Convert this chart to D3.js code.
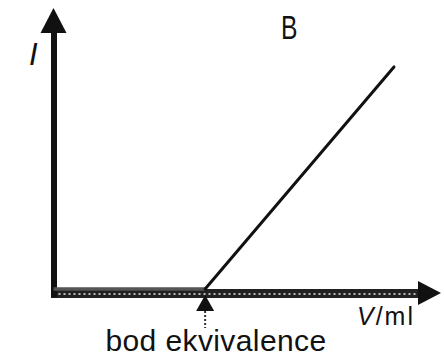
<!DOCTYPE html>
<html><head><meta charset="utf-8">
<script src="https://cdn.jsdelivr.net/npm/d3@7"></script>
<style>
html,body{margin:0;padding:0;background:#fff;}
svg{display:block;}
text{font-family:"Liberation Sans",Arial,Helvetica,sans-serif;fill:#111;}
</style></head>
<body>
<script>
// Data (V in ml, I in arbitrary units) — amperometric titration curve type B
const volumes = [0, 3.95, 8.92];
const currents = [0, 0, 8.54];
const equivalenceVolume = 3.95;
const axisLabelX = "V/ml";
const axisLabelY = "I";
const panelLabel = "B";
const equivalenceLabel = "bod ekvivalence";

const W = 444, H = 358;
const svg = d3.select("body").append("svg").attr("width", W).attr("height", H);

const x = d3.scaleLinear().domain([0, 10]).range([55, 435]);
const y = d3.scaleLinear().domain([0, 10]).range([289, 29]);

const axisY0 = 293; // x-axis position (pixel)
const axisX0 = 53.5;

// X axis (no ticks) drawn with d3.axisBottom
const gx = svg.append("g").attr("transform", `translate(0,${axisY0})`)
  .call(d3.axisBottom(d3.scaleLinear().domain([0,1]).range([axisX0 - 3, 420])).tickValues([]).tickSizeOuter(0));
gx.select(".domain").attr("stroke", "#222").attr("stroke-width", 9);
gx.append("line").attr("x1", axisX0).attr("x2", 418).attr("y1", 1).attr("y2", 1)
  .attr("stroke", "#bbb").attr("stroke-width", 2).attr("stroke-dasharray", "2,3");
// x arrow head
svg.append("path").attr("d", `M441,${axisY0} L418,${axisY0-12} L418,${axisY0+12} Z`).attr("fill", "#111");

// Y axis
const gy = svg.append("g").attr("transform", `translate(${axisX0},0)`)
  .call(d3.axisLeft(d3.scaleLinear().domain([0,1]).range([297, 30])).tickValues([]).tickSizeOuter(0));
gy.select(".domain").attr("stroke", "#111").attr("stroke-width", 6);
svg.append("path").attr("d", `M${axisX0},8 L${axisX0-13},33 L${axisX0+13},33 Z`).attr("fill", "#111");

// Data line
svg.append("path")
  .attr("d", `M${axisX0},${y(currents[0])} L${x(volumes[1])},${y(currents[1])}`)
  .attr("stroke", "#555").attr("stroke-width", 3.5).attr("fill", "none");
svg.append("path").datum(volumes.slice(1))
  .attr("d", d3.line().x(v => x(v)).y((v, i) => y(currents[i+1])))
  .attr("stroke", "#111").attr("stroke-width", 3).attr("fill", "none").attr("stroke-linecap", "round");

// Equivalence point marker
const xe = x(equivalenceVolume);
svg.append("path").attr("d", `M${xe},295 L${xe-9},311 L${xe+9},311 Z`).attr("fill", "#111");
svg.append("line").attr("x1", xe).attr("x2", xe).attr("y1", 311).attr("y2", 328)
  .attr("stroke", "#333").attr("stroke-width", 2).attr("stroke-dasharray", "2,2");

// Texts
svg.append("text").attr("x", 216).attr("y", 351).attr("text-anchor", "middle")
  .attr("font-size", 30).attr("letter-spacing", 0.4).text(equivalenceLabel);
svg.append("text").attr("x", 386).attr("y", 325).attr("text-anchor", "middle")
  .attr("font-size", 25).attr("letter-spacing", 2)
  .html('<tspan font-style="italic">V</tspan>/ml');
svg.append("text").attr("x", 29).attr("y", 65).attr("font-size", 31).attr("font-style", "italic").text(axisLabelY);
svg.append("text").attr("transform", "translate(281,39) scale(0.95,1.3)").attr("font-size", 26).text(panelLabel);
</script>
</body></html>
